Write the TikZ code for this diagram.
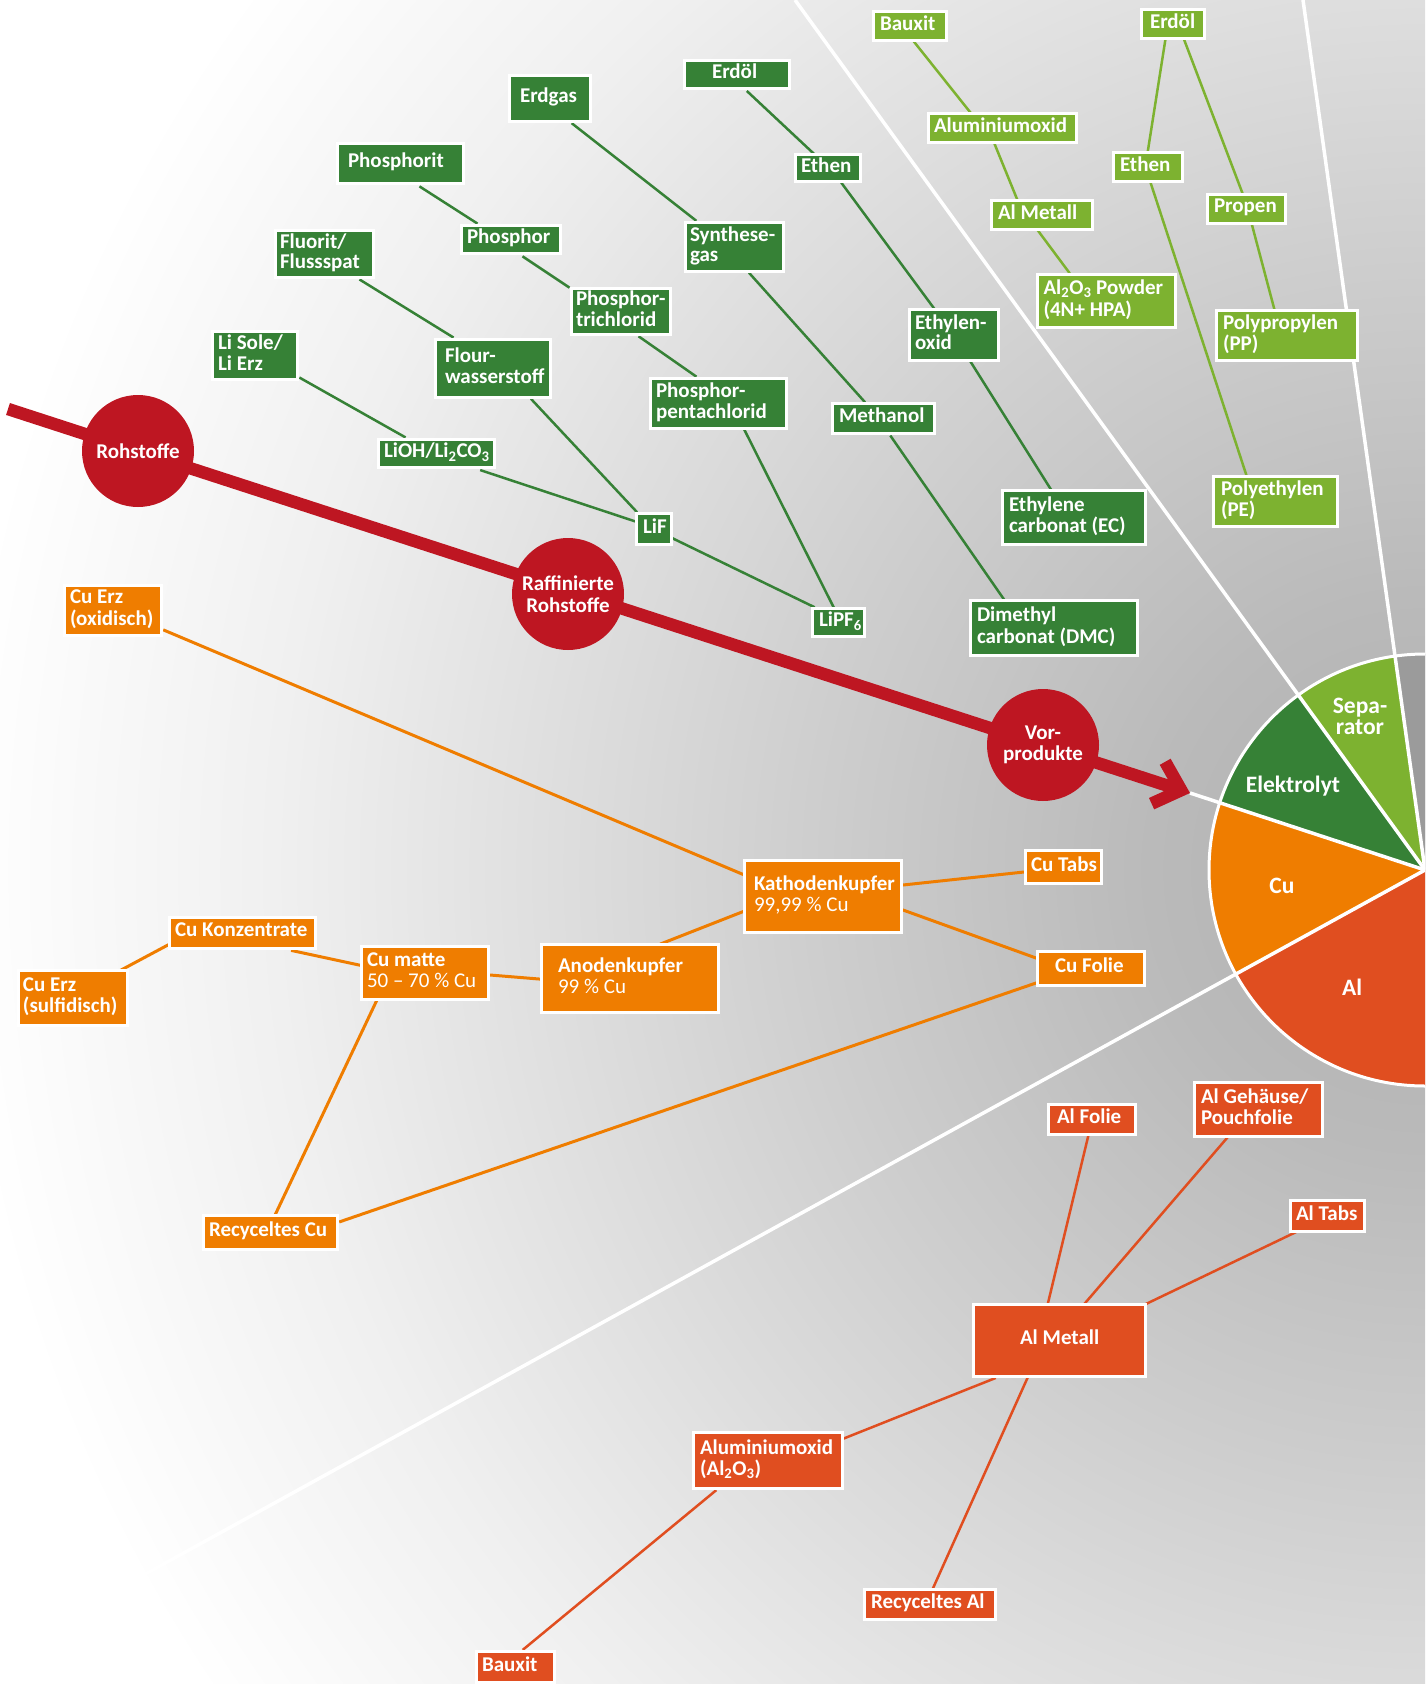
\documentclass[tikz,border=0pt]{standalone}
\usepackage{fontspec}
\setmainfont{Carlito}
\usetikzlibrary{arrows.meta}

% palette
\definecolor{dg}{RGB}{54,129,54}
\definecolor{lg}{RGB}{125,178,48}
\definecolor{cuor}{RGB}{239,125,0}
\definecolor{alred}{RGB}{224,78,32}
\definecolor{crim}{RGB}{190,22,34}
\definecolor{pgray}{RGB}{155,155,155}
\definecolor{bg0}{RGB}{176,176,176}
\definecolor{bg1}{RGB}{186,186,186}
\definecolor{bg2}{RGB}{205,205,205}
\definecolor{bg3}{RGB}{222,222,222}
\definecolor{bg4}{RGB}{240,240,240}

\pgfdeclarelayer{back}
\pgfdeclarelayer{links}
\pgfsetlayers{back,links,main}

% radial backdrop; 25bp corresponds to the radius of the shaded circle
\pgfdeclareradialshading{bgrad}{\pgfpoint{0bp}{0bp}}{color(0bp)=(bg0); color(4.6bp)=(bg1); color(10bp)=(bg2); color(14.5bp)=(bg3); color(19.2bp)=(bg4); color(24.5bp)=(white); color(25bp)=(white); color(50bp)=(white)}

\tikzset{
  tbox/.style={rectangle, draw=white, line width=3pt, text=white, inner sep=0pt,
    font=\fontsize{21}{19.5}\selectfont\bfseries},
  dgbox/.style={fill=dg},
  lgbox/.style={fill=lg},
  cubox/.style={fill=cuor},
  albox/.style={fill=alred},
  link/.style={shorten <=-3pt, shorten >=-3pt},
  dgl/.style={link, draw=dg, line width=2.5pt},
  lgl/.style={link, draw=lg, line width=2.5pt},
  cul/.style={link, draw=cuor, line width=3pt},
  all/.style={link, draw=alred, line width=2.5pt},
  hub/.style={circle, fill=crim, minimum size=112pt, inner sep=0pt, text=white,
    align=center, font=\fontsize{21}{21.5}\selectfont\bfseries},
  divider/.style={draw=white, line width=3.5pt},
  pielabel/.style={text=white, align=center, inner sep=0pt,
    font=\fontsize{23.5}{21}\selectfont\bfseries},
}

% \bx[left pad]{name}{style}{x1}{y1}{x2}{y2}{lines}
\newcommand\bx[8][8]{%
  \pgfmathsetmacro\bxw{#6-#4-3}%
  \pgfmathsetmacro\bxh{#7-#5-3}%
  \pgfmathsetmacro\bxl{#1-1.5}%
  \node[tbox,#3,minimum width=\bxw pt,minimum height=\bxh pt]
    (#2) at ({(#4+#6)/2},{(#5+#7)/2})
    {\makebox[\bxw pt][l]{\hspace*{\bxl pt}\begin{tabular}{@{}l@{}}#8\end{tabular}}};}

\begin{document}
\begin{tikzpicture}[x=1pt,y=-1pt]
\useasboundingbox (0,0) rectangle (1425,1684);

\coordinate (pc) at (1425,870);
\coordinate (rstart) at (8,409);
\coordinate (rtip) at (1190,793);
\coordinate (dtopa) at (795,0);
\coordinate (dtopb) at (1303,0);
\coordinate (dlow) at (0,1654);

% ---------- background and pie ----------
\begin{pgfonlayer}{back}
\begin{scope}
  \clip (0,0) rectangle (1425,1684);
  \fill[white] (0,0) rectangle (1425,1684);
  \shade[shading=bgrad] (pc) circle[radius=1500];
  \fill[pgray] (pc) -- ++(-60:216) arc[start angle=-60,end angle=-98,radius=216] -- cycle;
  \fill[lg] (pc) -- ++(-98:216) arc[start angle=-98,end angle=-125.9,radius=216] -- cycle;
  \fill[dg] (pc) -- ++(-125.9:216) arc[start angle=-125.9,end angle=-161.9,radius=216] -- cycle;
  \fill[cuor] (pc) -- ++(-161.9:216) arc[start angle=-161.9,end angle=-208.8,radius=216] -- cycle;
  \fill[alred] (pc) -- ++(-208.8:216) arc[start angle=-208.8,end angle=-300,radius=216] -- cycle;
  \draw[divider] (pc) -- (dtopa);
  \draw[divider] (pc) -- (dtopb);
  \draw[divider] (pc) -- (rtip);
  \draw[divider] (pc) -- (dlow);
  \draw[white, line width=3pt] (pc) circle[radius=216];
\end{scope}
\end{pgfonlayer}

\node[pielabel] (lsep) at (1360,716) {Sepa-\\rator};
\node[pielabel] (lelek) at (1293,786) {Elektrolyt};
\node[pielabel] (lcu) at (1282,886) {Cu};
\node[pielabel] (lal) at (1352,987) {Al};

% ---------- value chain hubs ----------
\node[hub] (rohstoffe) at (138,451) {Rohstoffe};
\node[hub] (raffiniert) at (568,594) {Raffinierte\\Rohstoffe};
\node[hub] (vorprodukte) at (1043,745) {Vor-\\produkte};

% ---------- electrolyte ----------
\bx[12]{erdgas}{dgbox}{508}{74}{592}{123}{Erdgas}
\bx[12]{phosphorit}{dgbox}{336}{142}{465}{185}{Phosphorit}
\bx[7]{phosphor}{dgbox}{460}{224}{562}{255}{Phosphor}
\bx[6]{fluorit}{dgbox}{274}{229}{375}{279}{Fluorit/\\Flussspat}
\bx[6]{pcl3}{dgbox}{570}{287}{672}{336}{Phosphor-\\trichlorid}
\bx[7]{lisole}{dgbox}{211}{330}{299}{381}{Li Sole/\\Li Erz}
\bx[11]{hf}{dgbox}{434}{338}{552}{399}{Flour-\\wasserstoff}
\bx[7]{pcl5}{dgbox}{649}{377}{788}{430}{Phosphor-\\pentachlorid}
\bx[7]{lioh}{dgbox}{377}{438}{496}{469}{LiOH/Li\textsubscript{2}CO\textsubscript{3}}
\bx[8]{lif}{dgbox}{635}{512}{673}{546}{LiF}
\bx[8]{lipf}{dgbox}{811}{607}{866}{638}{LiPF\textsubscript{6}}
\bx[29]{erdoel}{dgbox}{683}{59}{791}{90}{Erdöl}
\bx[7]{ethen}{dgbox}{794}{153}{862}{183}{Ethen}
\bx[6]{synth}{dgbox}{684}{221}{785}{273}{Synthese-\\gas}
\bx[7]{eo}{dgbox}{908}{308}{1000}{362}{Ethylen-\\oxid}
\bx[8]{methanol}{dgbox}{831}{402}{936}{435}{Methanol}
\bx[8]{ec}{dgbox}{1001}{489}{1147}{546}{Ethylene\\carbonat (EC)}
\bx[8]{dmc}{dgbox}{969}{599}{1139}{657}{Dimethyl\\carbonat (DMC)}

% ---------- separator ----------
\bx[8]{bauxita}{lgbox}{872}{10}{948}{42}{Bauxit}
\bx[10]{erdoelb}{lgbox}{1140}{8}{1206}{40}{Erdöl}
\bx[7]{aloxa}{lgbox}{927}{112}{1078}{144}{Aluminiumoxid}
\bx[8]{ethenb}{lgbox}{1112}{151}{1184}{183}{Ethen}
\bx[8]{propen}{lgbox}{1206}{193}{1287}{225}{Propen}
\bx[8]{almeta}{lgbox}{990}{199}{1094}{231}{Al Metall}
\bx[7.5]{hpa}{lgbox}{1036}{273}{1177}{329}{Al\textsubscript{2}O\textsubscript{3} Powder\\(4N+ HPA)}
\bx[8]{pp}{lgbox}{1215}{309}{1359}{362}{Polypropylen\\(PP)}
\bx[9]{pe}{lgbox}{1212}{475}{1339}{528}{Polyethylen\\(PE)}

% ---------- copper ----------
\bx[7]{cuox}{cubox}{63}{584}{163}{637}{Cu Erz\\(oxidisch)}
\bx[11]{kath}{cubox}{743}{859}{903}{934}{Kathodenkupfer\\{\mdseries 99,99 \% Cu}}
\bx[7]{cutabs}{cubox}{1024}{849}{1103}{885}{Cu Tabs}
\bx[19]{cufolie}{cubox}{1036}{950}{1146}{987}{Cu Folie}
\bx[7]{cukonz}{cubox}{168}{916}{317}{950}{Cu Konzentrate}
\bx[7]{cumatte}{cubox}{360}{945}{490}{1001}{Cu matte\\{\mdseries 50 -- 70 \% Cu}}
\bx[18]{anode}{cubox}{540}{943}{720}{1014}{Anodenkupfer\\{\mdseries 99 \% Cu}}
\bx[6]{cusulf}{cubox}{17}{969}{129}{1027}{Cu Erz\\(sulfidisch)}
\bx[7]{recu}{cubox}{202}{1214}{339}{1251}{Recyceltes Cu}

% ---------- aluminium ----------
\bx[10]{alfolie}{albox}{1047}{1103}{1137}{1136}{Al Folie}
\bx[8]{algeh}{albox}{1193}{1081}{1324}{1138}{Al Gehäuse/\\Pouchfolie}
\bx[7]{altabs}{albox}{1289}{1199}{1366}{1233}{Al Tabs}
\bx[48]{almetb}{albox}{972}{1303}{1147}{1378}{Al Metall}
\bx[8]{aloxb}{albox}{692}{1431}{844}{1490}{Aluminiumoxid\\(Al\textsubscript{2}O\textsubscript{3})}
\bx[8]{real}{albox}{863}{1588}{997}{1621}{Recyceltes Al}
\bx[7]{bauxitb}{albox}{475}{1650}{556}{1684}{Bauxit}

% ---------- connectors ----------
\begin{pgfonlayer}{links}
\draw[crim, line width=12.5pt, -{Straight Barb[sharp,length=24pt,width=44pt]}] (rstart) -- (rtip);

\draw[dgl] ([shift={(66,51)}]erdgas.north west) -- ([shift={(10,-2)}]synth.north west);
\draw[dgl] ([shift={(67,54)}]synth.north west) -- ([shift={(32,-2)}]methanol.north west);
\draw[dgl] ([shift={(61,36)}]methanol.north west) -- ([shift={(34,-1)}]dmc.north west);
\draw[dgl] ([shift={(66,34)}]erdoel.north west) -- ([shift={(18,-1)}]ethen.north west);
\draw[dgl] ([shift={(49,32)}]ethen.north west) -- ([shift={(25,-1)}]eo.north west);
\draw[dgl] ([shift={(64,56)}]eo.north west) -- ([shift={(49,-1)}]ec.north west);
\draw[dgl] ([shift={(86,46)}]phosphorit.north west) -- ([shift={(15,-2)}]phosphor.north west);
\draw[dgl] ([shift={(65,34)}]phosphor.north west) -- ([shift={(-3,-1)}]pcl3.north west);
\draw[dgl] ([shift={(71,51)}]pcl3.north west) -- ([shift={(45,-2)}]pcl5.north west);
\draw[dgl] ([shift={(96,54)}]pcl5.north west) -- ([shift={(22,-1)}]lipf.north west);
\draw[dgl] ([shift={(88,52)}]fluorit.north west) -- ([shift={(17,-2)}]hf.north west);
\draw[dgl] ([shift={(99,63)}]hf.north west) -- ([shift={(0,-2)}]lif.north west);
\draw[dgl] ([shift={(91,49)}]lisole.north west) -- ([shift={(26,-2)}]lioh.north west);
\draw[dgl] ([shift={(106,33)}]lioh.north west) -- ([shift={(-1,9)}]lif.north west);
\draw[dgl] ([shift={(39,27)}]lif.north west) -- ([shift={(1,-1)}]lipf.north west);

\draw[lgl] ([shift={(43,33)}]bauxita.north west) -- ([shift={(43,0)}]aloxa.north west);
\draw[lgl] ([shift={(68,33)}]aloxa.north west) -- ([shift={(27,0)}]almeta.north west);
\draw[lgl] ([shift={(49,33)}]almeta.north west) -- ([shift={(32,-2)}]hpa.north west);
\draw[lgl] ([shift={(25,34)}]erdoelb.north west) -- ([shift={(36,-1)}]ethenb.north west);
\draw[lgl] ([shift={(45,34)}]erdoelb.north west) -- ([shift={(36,-1)}]propen.north west);
\draw[lgl] ([shift={(39,33)}]ethenb.north west) -- ([shift={(34,-1)}]pe.north west);
\draw[lgl] ([shift={(46,32)}]propen.north west) -- ([shift={(59,-1)}]pp.north west);

\draw[cul] ([shift={(103,47)}]cuox.north west) -- ([shift={(-1,15)}]kath.north west);
\draw[cul] ([shift={(160,26)}]kath.north west) -- ([shift={(0,23)}]cutabs.north west);
\draw[cul] ([shift={(160,51)}]kath.north west) -- ([shift={(0,8)}]cufolie.north west);
\draw[cul] ([shift={(106,0)}]cusulf.north west) -- ([shift={(-2,30)}]cukonz.north west);
\draw[cul] ([shift={(126,35)}]cukonz.north west) -- ([shift={(-1,20)}]cumatte.north west);
\draw[cul] ([shift={(130,30)}]cumatte.north west) -- ([shift={(-1,36)}]anode.north west);
\draw[cul] ([shift={(123,0)}]anode.north west) -- ([shift={(-1,53)}]kath.north west);
\draw[cul] ([shift={(16,57)}]cumatte.north west) -- ([shift={(74,-1)}]recu.north west);
\draw[cul] ([shift={(140,7)}]recu.north west) -- ([shift={(0,33)}]cufolie.north west);

\draw[all] ([shift={(76,0)}]almetb.north west) -- ([shift={(41,34)}]alfolie.north west);
\draw[all] ([shift={(114,-1)}]almetb.north west) -- ([shift={(34,57)}]algeh.north west);
\draw[all] ([shift={(176,0)}]almetb.north west) -- ([shift={(5,34)}]altabs.north west);
\draw[all] ([shift={(153,7)}]aloxb.north west) -- ([shift={(21,76)}]almetb.north west);
\draw[all] ([shift={(50,-2)}]bauxitb.north west) -- ([shift={(22,61)}]aloxb.north west);
\draw[all] ([shift={(71,-2)}]real.north west) -- ([shift={(55,76)}]almetb.north west);
\end{pgfonlayer}
\end{tikzpicture}
\end{document}
